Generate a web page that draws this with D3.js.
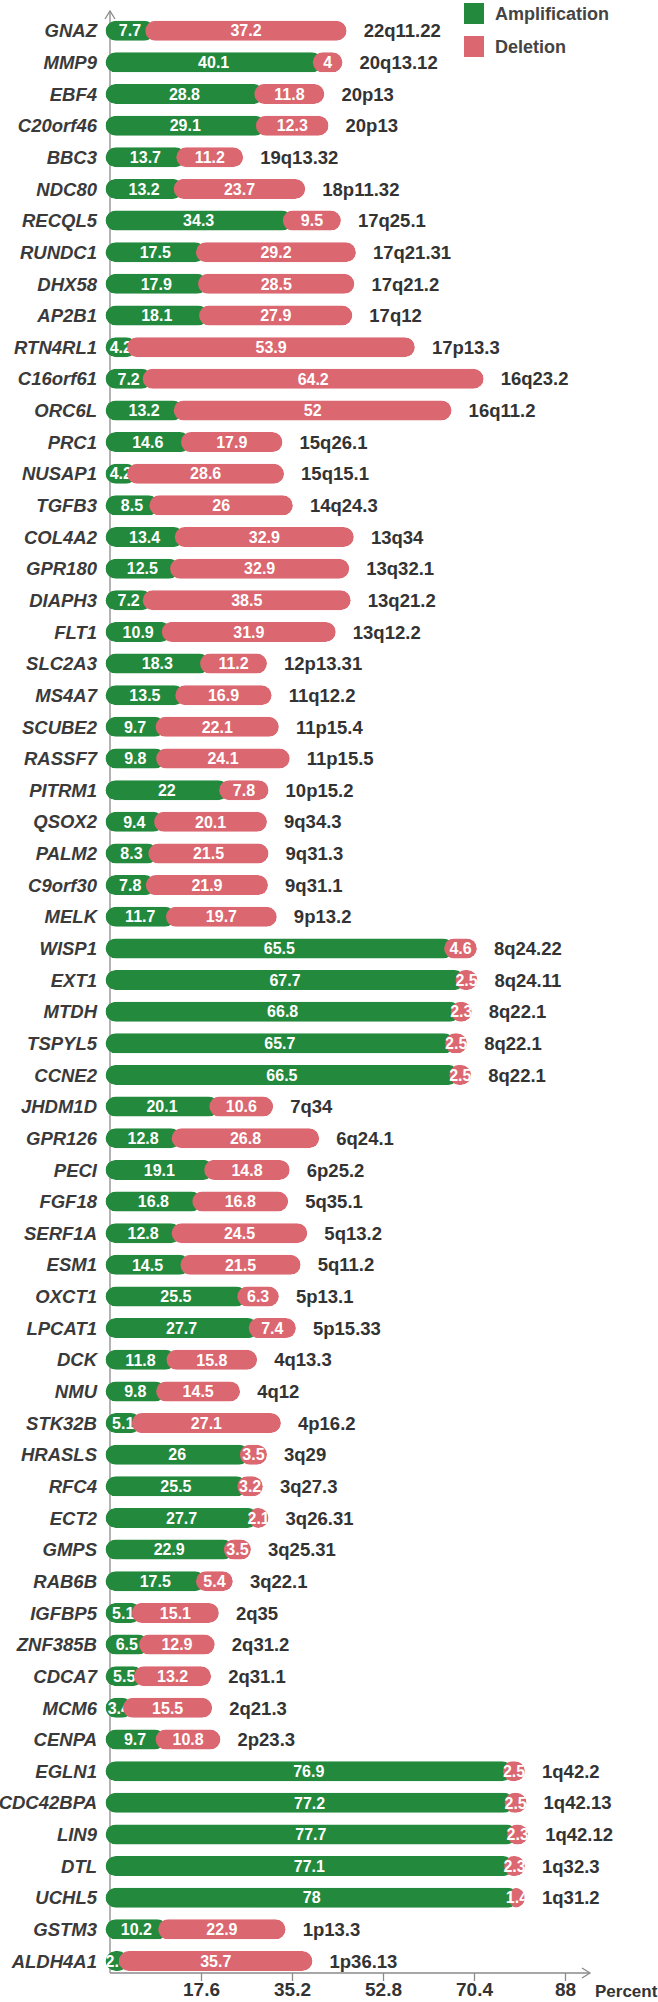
<!DOCTYPE html>
<html>
<head>
<meta charset="utf-8">
<script src="https://cdn.jsdelivr.net/npm/d3@7"></script>
<style>
  body { margin: 0; background: #fff; }
  svg { display: block; }
</style>
</head>
<body>
<div id="chart"></div>
<script>
// gene names, top to bottom
const genes = ["GNAZ", "MMP9", "EBF4", "C20orf46", "BBC3", "NDC80", "RECQL5", "RUNDC1", "DHX58", "AP2B1",
  "RTN4RL1", "C16orf61", "ORC6L", "PRC1", "NUSAP1", "TGFB3", "COL4A2", "GPR180", "DIAPH3", "FLT1",
  "SLC2A3", "MS4A7", "SCUBE2", "RASSF7", "PITRM1", "QSOX2", "PALM2", "C9orf30", "MELK", "WISP1",
  "EXT1", "MTDH", "TSPYL5", "CCNE2", "JHDM1D", "GPR126", "PECI", "FGF18", "SERF1A", "ESM1",
  "OXCT1", "LPCAT1", "DCK", "NMU", "STK32B", "HRASLS", "RFC4", "ECT2", "GMPS", "RAB6B",
  "IGFBP5", "ZNF385B", "CDCA7", "MCM6", "CENPA", "EGLN1", "CDC42BPA", "LIN9", "DTL", "UCHL5",
  "GSTM3", "ALDH4A1"];

const amplification = [7.7, 40.1, 28.8, 29.1, 13.7, 13.2, 34.3, 17.5, 17.9, 18.1,
  4.2, 7.2, 13.2, 14.6, 4.2, 8.5, 13.4, 12.5, 7.2, 10.9,
  18.3, 13.5, 9.7, 9.8, 22, 9.4, 8.3, 7.8, 11.7, 65.5,
  67.7, 66.8, 65.7, 66.5, 20.1, 12.8, 19.1, 16.8, 12.8, 14.5,
  25.5, 27.7, 11.8, 9.8, 5.1, 26, 25.5, 27.7, 22.9, 17.5,
  5.1, 6.5, 5.5, 3.4, 9.7, 76.9, 77.2, 77.7, 77.1, 78,
  10.2, 2.6];

const deletion = [37.2, 4, 11.8, 12.3, 11.2, 23.7, 9.5, 29.2, 28.5, 27.9,
  53.9, 64.2, 52, 17.9, 28.6, 26, 32.9, 32.9, 38.5, 31.9,
  11.2, 16.9, 22.1, 24.1, 7.8, 20.1, 21.5, 21.9, 19.7, 4.6,
  2.5, 2.3, 2.5, 2.5, 10.6, 26.8, 14.8, 16.8, 24.5, 21.5,
  6.3, 7.4, 15.8, 14.5, 27.1, 3.5, 3.2, 2.1, 3.5, 5.4,
  15.1, 12.9, 13.2, 15.5, 10.8, 2.5, 2.5, 2.3, 2.3, 1.4,
  22.9, 35.7];

const loci = ["22q11.22", "20q13.12", "20p13", "20p13", "19q13.32", "18p11.32", "17q25.1", "17q21.31", "17q21.2", "17q12",
  "17p13.3", "16q23.2", "16q11.2", "15q26.1", "15q15.1", "14q24.3", "13q34", "13q32.1", "13q21.2", "13q12.2",
  "12p13.31", "11q12.2", "11p15.4", "11p15.5", "10p15.2", "9q34.3", "9q31.3", "9q31.1", "9p13.2", "8q24.22",
  "8q24.11", "8q22.1", "8q22.1", "8q22.1", "7q34", "6q24.1", "6p25.2", "5q35.1", "5q13.2", "5q11.2",
  "5p13.1", "5p15.33", "4q13.3", "4q12", "4p16.2", "3q29", "3q27.3", "3q26.31", "3q25.31", "3q22.1",
  "2q35", "2q31.2", "2q31.1", "2q21.3", "2p23.3", "1q42.2", "1q42.13", "1q42.12", "1q32.3", "1q31.2",
  "1p13.3", "1p36.13"];

const tickValues = [17.6, 35.2, 52.8, 70.4, 88];
const seriesNames = ["Amplification", "Deletion"];

const green = "#23893d", red = "#db6770";
const narrow = "'Liberation Sans Narrow', 'Arial Narrow', 'Liberation Sans', Arial, sans-serif";
const sans = "'Liberation Sans', Arial, sans-serif";

const W = 658, H = 2002;
const svg = d3.select("#chart").append("svg")
  .attr("width", W)
  .attr("height", H);

const x = d3.scaleLinear().domain([0, 88]).range([110, 565]);
const y = d3.scalePoint().domain(genes).range([30.7, 1961]);
const barH = 20, cap = 4.5;
const axisY = 1973;

const rows = genes.map((g, i) => ({ gene: g, amp: amplification[i], del: deletion[i], locus: loci[i], i }));

// axes (drawn first, bars sit over them)
svg.append("line")
  .attr("x1", x(0)).attr("x2", x(0))
  .attr("y1", 11).attr("y2", axisY)
  .attr("stroke", "#8a8a8a").attr("stroke-width", 1.3);
svg.append("path")
  .attr("d", `M${x(0) - 5},${19} L${x(0)},${11} L${x(0) + 5},${19}`)
  .attr("fill", "none").attr("stroke", "#8a8a8a").attr("stroke-width", 1.3);

const xAxis = svg.append("g")
  .attr("transform", `translate(0,${axisY})`)
  .call(d3.axisBottom(x).tickValues(tickValues).tickSize(8).tickPadding(2).tickFormat(d => d));
xAxis.select(".domain").remove();
xAxis.selectAll(".tick line").attr("stroke", "#8a8a8a").attr("stroke-width", 1.3);
xAxis.selectAll(".tick text")
  .attr("fill", "#333")
  .style("font-family", narrow)
  .style("font-weight", "bold")
  .style("font-size", "19px");

svg.append("line")
  .attr("x1", x(0)).attr("x2", 590)
  .attr("y1", axisY).attr("y2", axisY)
  .attr("stroke", "#8a8a8a").attr("stroke-width", 1.3);
svg.append("path")
  .attr("d", `M582,${axisY - 5} L590,${axisY} L582,${axisY + 5}`)
  .attr("fill", "none").attr("stroke", "#8a8a8a").attr("stroke-width", 1.3);

svg.append("text")
  .attr("x", 595).attr("y", 1997)
  .attr("fill", "#333")
  .style("font-family", sans)
  .style("font-weight", "bold")
  .style("font-size", "17px")
  .text("Percent");

// bars
const defs = svg.append("defs");
const bars = svg.selectAll("g.bar")
  .data(rows)
  .enter().append("g")
  .attr("class", "bar");

bars.each(function (d) {
  const g = d3.select(this);
  const yc = y(d.gene);
  const x0 = x(0) - cap;
  const xa = x(d.amp);
  const xt = x(d.amp + d.del) + cap;

  defs.append("clipPath").attr("id", "clip" + d.i)
    .append("rect")
    .attr("x", x0).attr("y", yc - barH / 2)
    .attr("width", xt - x0).attr("height", barH)
    .attr("rx", barH / 2);

  const inner = g.append("g").attr("clip-path", `url(#clip${d.i})`);

  inner.append("rect")
    .attr("x", x0).attr("y", yc - barH / 2)
    .attr("width", xa + cap - x0).attr("height", barH)
    .attr("rx", barH / 2)
    .attr("fill", green);

  inner.append("text")
    .attr("x", (x(0) + xa) / 2).attr("y", yc)
    .attr("dy", "0.36em")
    .attr("text-anchor", "middle")
    .attr("fill", "#fff")
    .style("font-family", narrow)
    .style("font-weight", "bold")
    .style("font-size", "16px")
    .text(d.amp);

  inner.append("rect")
    .attr("x", xa - cap).attr("y", yc - barH / 2)
    .attr("width", xt - (xa - cap)).attr("height", barH)
    .attr("rx", barH / 2)
    .attr("fill", red);

  inner.append("text")
    .attr("x", (xa + x(d.amp + d.del)) / 2).attr("y", yc)
    .attr("dy", "0.36em")
    .attr("text-anchor", "middle")
    .attr("fill", "#fff")
    .style("font-family", narrow)
    .style("font-weight", "bold")
    .style("font-size", "16px")
    .text(d.del);

  g.append("text")
    .attr("x", xt + 17).attr("y", yc)
    .attr("dy", "0.36em")
    .attr("fill", "#333")
    .style("font-family", narrow)
    .style("font-weight", "bold")
    .style("font-size", "18.5px")
    .text(d.locus);

  g.append("text")
    .attr("x", 97).attr("y", yc)
    .attr("dy", "0.36em")
    .attr("text-anchor", "end")
    .attr("fill", "#3a3a3a")
    .style("font-family", sans)
    .style("font-weight", "bold")
    .style("font-style", "italic")
    .style("font-size", "18.5px")
    .text(d.gene);
});

// legend
const legend = svg.append("g").attr("transform", "translate(464,3)");
seriesNames.forEach((name, i) => {
  legend.append("rect")
    .attr("x", 0).attr("y", i * 33)
    .attr("width", 20).attr("height", 21)
    .attr("fill", i === 0 ? green : red);
  legend.append("text")
    .attr("x", 31).attr("y", i * 33 + 10.5)
    .attr("dy", "0.36em")
    .attr("fill", "#444")
    .style("font-family", sans)
    .style("font-weight", "bold")
    .style("font-size", "18px")
    .text(name);
});
</script>
</body>
</html>
